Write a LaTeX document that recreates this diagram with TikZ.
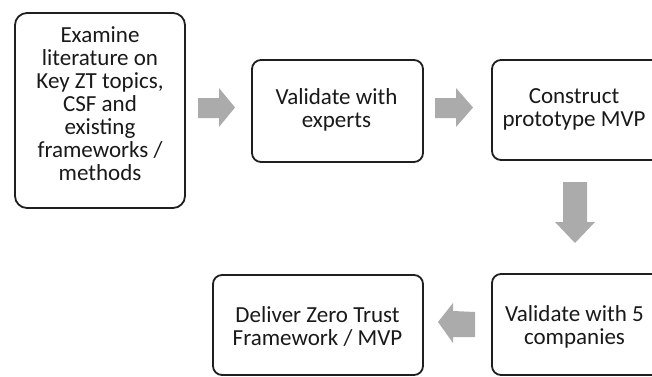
\documentclass[tikz,border=0pt]{standalone}
\usepackage{fontspec}
\setmainfont{Carlito}
\begin{document}
\begin{tikzpicture}[x=1pt,y=-1pt,
  stepbox/.style={draw=black!88,line width=1.8pt,rounded corners=9pt,fill=white},
  boxtext/.style={align=center,text=black!90,font=\fontsize{23}{23}\selectfont,inner sep=0pt},
  blockarrow/.style={fill=black!33,draw=none}]
\useasboundingbox (0,0) rectangle (652,376);
\clip (0,0) rectangle (652,376);
% boxes
\draw[stepbox,rounded corners=12pt] (15,13) rectangle (185,208);
\draw[stepbox] (252,60) rectangle (423,162);
\draw[stepbox] (492,60) rectangle (662,160);
\draw[stepbox] (492,274) rectangle (662,375);
\draw[stepbox] (213,275) rectangle (423,375);
% texts
\node[boxtext] (t1) at (100,104) {Examine\\literature on\\Key ZT topics,\\CSF and\\existing\\frameworks /\\methods};
\node[boxtext] (t2) at (336.5,109.5) {Validate with\\experts};
\node[boxtext] (t3) at (574,109.5) {Construct\\prototype MVP};
\node[boxtext] (t4) at (574.5,326.5) {Validate with 5\\companies};
\node[boxtext] (t5) at (317.5,326.5) {Deliver Zero Trust\\Framework / MVP};
% block arrows
\fill[blockarrow] (198,98) -- (219,98) -- (219,88) -- (235,107.5) -- (219,127) -- (219,118) -- (198,118) -- cycle;
\fill[blockarrow] (435,98) -- (456,98) -- (456,88) -- (473,107.5) -- (456,127) -- (456,118) -- (435,118) -- cycle;
\fill[blockarrow] (563,182) -- (587,182) -- (587,222) -- (595,222) -- (575,243) -- (555,222) -- (563,222) -- cycle;
\fill[blockarrow] (475,312) -- (453,311) -- (453,303) -- (438,322) -- (453,343) -- (453,337) -- (475,337) -- cycle;
\end{tikzpicture}
\end{document}
